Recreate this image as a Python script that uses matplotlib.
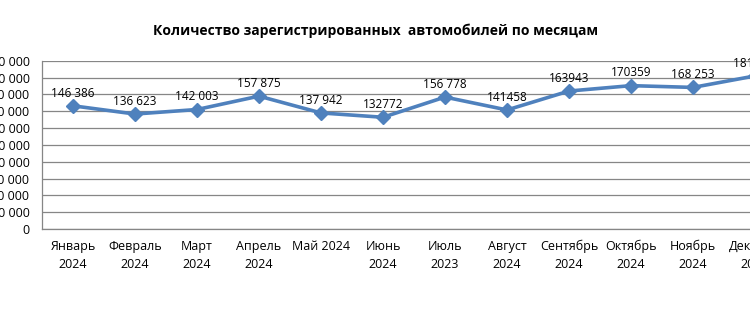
import matplotlib
matplotlib.use("Agg")
import matplotlib.pyplot as plt

plt.rcParams['font.family'] = ['Open Sans', 'DejaVu Sans']

months = ["Январь\n2024", "Февраль\n2024", "Март\n2024", "Апрель\n2024", "Май 2024",
          "Июнь\n2024", "Июль\n2023", "Август\n2024", "Сентябрь\n2024", "Октябрь\n2024",
          "Ноябрь\n2024", "Декабрь\n2024"]
registered = [146386, 136623, 142003, 157875, 137942, 132772,
              156778, 141458, 163943, 170359, 168253, 181890]
value_labels = ["146 386", "136 623", "142 003", "157 875", "137 942", "132772",
                "156 778", "141458", "163943", "170359", "168 253", "181 890"]
y_ticks = list(range(0, 200001, 20000))

line_color = "#4F81BD"
grid_color = "#868686"

fig = plt.figure(figsize=(7.5, 3.34), dpi=100)
# the plot area runs past the right edge of the canvas on purpose
ax = fig.add_axes([42 / 750, 105 / 334, 744 / 750, 168.3 / 334])

x = list(range(len(months)))
ax.plot(x, registered, color=line_color, linewidth=2.6, marker="D",
        markersize=7.5, clip_on=False, zorder=3)

for xi, val, lab in zip(x, registered, value_labels):
    ax.annotate(lab, (xi, val), xytext=(0, 4.5), textcoords="offset points",
                ha="center", va="bottom", fontsize=8.5, color="black")

ax.set_xlim(-0.5, len(months) - 0.5)
ax.set_ylim(0, 200000)
ax.set_yticks(y_ticks)
ax.set_yticklabels(["{:,}".format(v).replace(",", " ") for v in y_ticks], fontsize=9)
ax.set_xticks(x)
ax.set_xticklabels(months, fontsize=9, va="top", linespacing=1.45)
ax.tick_params(axis="x", length=0, pad=8)
ax.tick_params(axis="y", length=0, pad=9)

ax.grid(axis="y", color=grid_color, linewidth=0.9)
ax.set_axisbelow(True)
for side in ["top", "right"]:
    ax.spines[side].set_visible(False)
for side in ["left", "bottom"]:
    ax.spines[side].set_color(grid_color)
    ax.spines[side].set_linewidth(0.9)

fig.text(376 / 750, 1 - 31 / 334, "Количество зарегистрированных  автомобилей по месяцам",
         ha="center", va="center", fontsize=10, fontweight="bold")

fig.savefig("out.png", dpi=100)
